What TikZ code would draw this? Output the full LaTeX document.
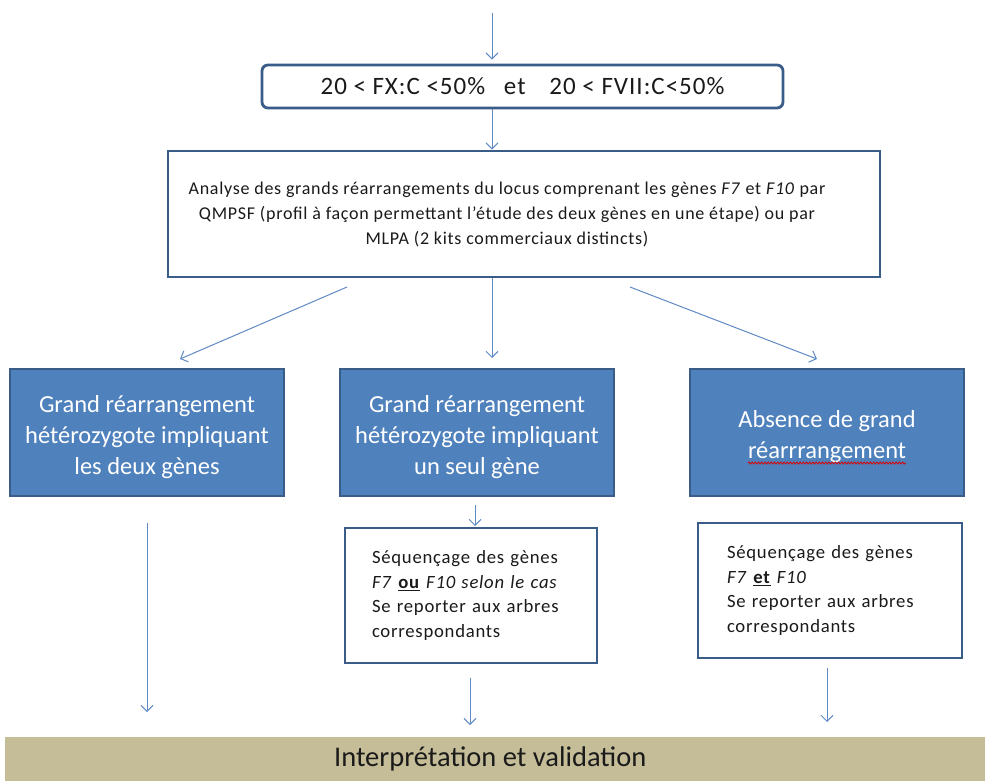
\documentclass[tikz,border=0pt]{standalone}
\usepackage{fontspec}
\setmainfont{Carlito}[LetterSpace=4]
\newfontfamily\tightfont{Carlito}
\usetikzlibrary{arrows.meta,decorations.pathmorphing}
\definecolor{arrowblue}{HTML}{5F8AC4}
\definecolor{edge}{HTML}{3A5C89}
\definecolor{boxblue}{HTML}{4F81BD}
\definecolor{band}{HTML}{C4BD97}
\definecolor{ink}{HTML}{1A1A1A}
\tikzset{
  arr/.style={draw=arrowblue, line width=1pt, -{Straight Barb[length=6pt,width=12pt,line width=1pt]}},
  whitebox/.style={draw=edge, line width=2.8pt, fill=white, text=ink},
  bluebox/.style={draw=edge, line width=2.4pt, fill=boxblue, text=white, align=center,
    minimum width=274pt, minimum height=127pt, inner sep=0pt,
    font=\tightfont\fontsize{24.5}{31}\selectfont},
  seqbox/.style={whitebox, align=left, minimum height=135pt, inner ysep=0pt,
    font=\fontsize{18.7}{24.5}\selectfont},
}
\begin{document}
\begin{tikzpicture}[x=1pt,y=-1pt]
\useasboundingbox (0,0) rectangle (985,781);

% threshold box
\node[whitebox, rounded corners=6pt, minimum width=521pt, minimum height=43pt, inner sep=0pt,
      font=\fontsize{25}{28}\selectfont] (seuil) at (522.5,86.5)
  {20 < FX:C <50\%\hspace{0.75em}et\hspace{0.95em}20 < FVII:C<50\%};

% analysis box
\node[whitebox, minimum width=712pt, minimum height=126pt, inner sep=0pt, align=center,
      font=\fontsize{18}{25}\selectfont] (analyse) at (524,214)
  {\hspace*{-34pt}Analyse des grands réarrangements du locus comprenant les gènes \textit{F7} et \textit{F10} par\\
   \hspace*{-34pt}QMPSF (profil à façon permettant l’étude des deux gènes en une étape) ou par\\
   \hspace*{-34pt}MLPA (2 kits commerciaux distincts)};

% three outcomes
\node[bluebox] (deux) at (147,432.5)
  {\rule{0pt}{26pt}Grand réarrangement\\hétérozygote impliquant\\les deux gènes};
\node[bluebox] (seul) at (477,432.5)
  {\rule{0pt}{26pt}Grand réarrangement\\hétérozygote impliquant\\un seul gène};
\node[bluebox] (absence) at (827,432.5)
  {\rule{0pt}{26pt}Absence de grand\\réarrrangement};

% wavy spell-check mark under the last word
\coordinate (wavyA) at (748,463);
\coordinate (wavyB) at (906,463);
\draw[red!85!black, line width=0.8pt, decorate,
      decoration={snake, amplitude=1pt, segment length=3.2pt}] (wavyA) -- (wavyB);

% sequencing boxes
\node[seqbox, text width=198pt, inner xsep=27pt] (seqA) at (471,595.5)
  {Séquençage des gènes\\
   \textit{F7} \underline{\textbf{ou}} \textit{F10 selon le cas}\\
   Se reporter aux arbres\\
   correspondants};
\node[seqbox, text width=206pt, inner xsep=29pt] (seqB) at (830,590.5)
  {Séquençage des gènes\\
   \textit{F7} \underline{\textbf{et}} \textit{F10}\\
   Se reporter aux arbres\\
   correspondants};

% final band
\node[fill=band, minimum width=980pt, minimum height=44pt, inner sep=0pt, anchor=north west,
      text=ink, font=\tightfont\fontsize{28.5}{30}\selectfont] (band) at (5,737) {\hspace*{-10pt}Interprétation et validation};

% free ends of connectors
\coordinate (entree) at (492,13);
\coordinate (d1s) at (347,287);
\coordinate (d1e) at (180,359);
\coordinate (d2s) at (492,278);
\coordinate (d2e) at (492,358);
\coordinate (d3s) at (630,287);
\coordinate (d3e) at (817,359);
\coordinate (l1s) at (147,523);
\coordinate (l1e) at (147,712);
\coordinate (s1s) at (475,505);
\coordinate (s1e) at (475,526);
\coordinate (b1s) at (470,678);
\coordinate (b1e) at (470,725);
\coordinate (b2s) at (827,668);
\coordinate (b2e) at (827,722);

% connectors
\draw[arr, shorten >=4pt] (entree) -- (entree |- seuil.north);
\draw[arr] (seuil.south -| entree) -- (analyse.north -| entree);
\draw[arr] (d1s) -- (d1e);
\draw[arr] (d2s) -- (d2e);
\draw[arr] (d3s) -- (d3e);
\draw[arr] (l1s) -- (l1e);
\draw[arr] (s1s) -- (s1e);
\draw[arr] (b1s) -- (b1e);
\draw[arr] (b2s) -- (b2e);
\end{tikzpicture}
\end{document}
